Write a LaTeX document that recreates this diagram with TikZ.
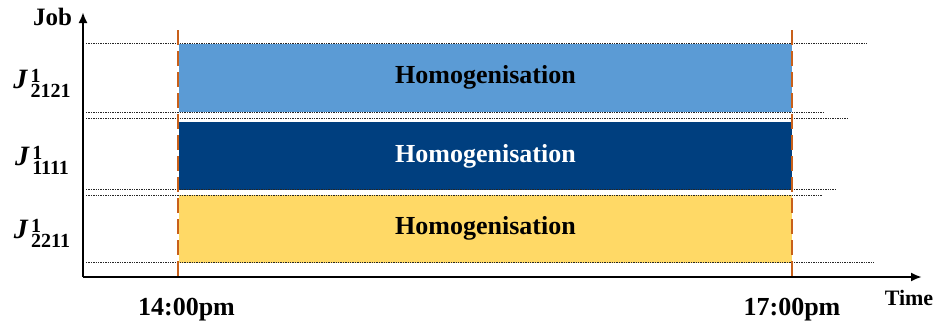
\documentclass[tikz,border=0pt]{standalone}
\usepackage{fontspec}
\setmainfont{Liberation Serif}
\usepackage{tikz}
\usetikzlibrary{arrows.meta,positioning}
\definecolor{hgblue}{HTML}{5B9BD5}
\definecolor{hgnavy}{HTML}{003F7F}
\definecolor{hgyellow}{HTML}{FFD966}
\definecolor{hgorange}{HTML}{C8601A}
\newcommand{\joblab}[1]{{\fontsize{28}{28}\selectfont\textit{J}}\kern2.5pt\rlap{\raisebox{6pt}{\fontsize{20}{20}\selectfont 1}}\raisebox{-9pt}{\fontsize{20}{20}\selectfont #1}}

\begin{document}
\begin{tikzpicture}[
  x=1pt, y=-1pt,
  font=\fontsize{26}{30}\selectfont\bfseries,
  bar/.style={minimum width=613pt, minimum height=68pt, inner sep=0pt},
  axis/.style={-{Latex[length=11pt,width=9pt]}, line width=2.6pt},
  tline/.style={hgorange, line width=2pt, dash pattern=on 15pt off 6pt},
  guide/.style={line width=1pt, dash pattern=on 1.3pt off 1.1pt, black!85}
]
\useasboundingbox (0,0) rectangle (935,322);
% axes
\coordinate (o) at (83,277);
\coordinate (ytop) at (83,12);
\coordinate (xend) at (922,277);
\draw[axis] (o) -- (ytop);
\draw[axis] (o) -- (xend);
\node[anchor=base, font=\fontsize{25}{25}\selectfont\bfseries] (job) at (52.5,25) {Job};
\node[anchor=base, font=\fontsize{22}{22}\selectfont\bfseries] (time) at (909,305) {Time};
% bars
\node[bar, fill=hgblue] (b1) at (485.5,77.5) {Homogenisation};
\node[bar, fill=hgnavy, text=white] (b2) at (485.5,156) {Homogenisation};
\node[bar, fill=hgyellow] (b3) at (485.5,228.5) {Homogenisation};
% job labels
\node[anchor=base] (j1) at (42,88) {\joblab{2121}};
\node[anchor=base] (j2) at (42,165) {\joblab{1111}};
\node[anchor=base] (j3) at (42,238) {\joblab{2211}};
% guides
\draw[guide] (86,43) -- (868,43);
\draw[guide] (86,112.5) -- (823,112.5);
\draw[guide] (86,118.5) -- (847,118.5);
\draw[guide] (86,189.5) -- (837,189.5);
\draw[guide] (86,195) -- (822,195);
\draw[guide] (86,262) -- (874,262);
% time marks
\coordinate (t1) at (178,30);
\coordinate (t2) at (792,30);
\draw[tline] (t1) -- (178,281);
\draw[tline] (t2) -- (792,281);
\node[anchor=base] (l1) at (186.5,315) {14:00pm};
\node[anchor=base] (l2) at (792,315) {17:00pm};
\end{tikzpicture}
\end{document}
